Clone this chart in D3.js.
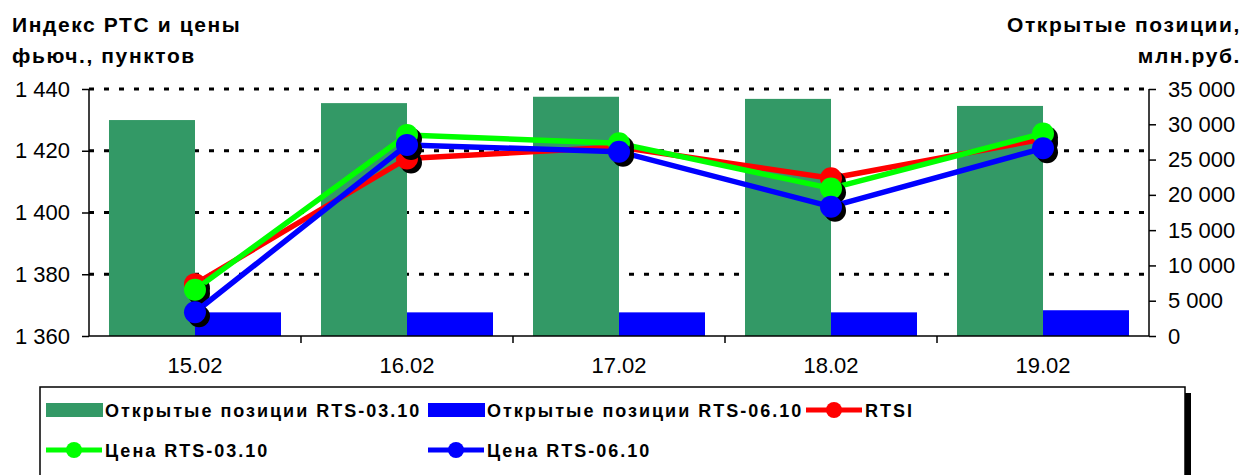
<!DOCTYPE html>
<html>
<head>
<meta charset="utf-8">
<script src="https://cdn.jsdelivr.net/npm/d3@7"></script>
<style>
  body { margin: 0; background: #fff; }
  svg { font-family: "Liberation Sans", Arial, sans-serif; }
</style>
</head>
<body>
<div id="chart"></div>
<script>
const width = 1243;
const height = 475;

// data
const categories = ["15.02", "16.02", "17.02", "18.02", "19.02"];
const oiMar = [30600, 33000, 33900, 33600, 32600];   // Открытые позиции RTS-03.10
const oiJun = [3350, 3350, 3350, 3350, 3650];        // Открытые позиции RTS-06.10
const rtsi = [1376.8, 1417.5, 1421.2, 1411.1, 1423.8];
const priceMar = [1375.0, 1425.1, 1422.4, 1407.8, 1425.6];
const priceJun = [1367.7, 1421.9, 1419.7, 1401.9, 1420.8];
const leftTicks = [1360, 1380, 1400, 1420, 1440];
const rightTicks = [0, 5000, 10000, 15000, 20000, 25000, 30000, 35000];

const plot = { left: 89, right: 1149, top: 89, bottom: 336 };

const ru = d3.formatLocale({ decimal: ",", thousands: " ", grouping: [3], currency: ["", ""] });
const fmt = ru.format(",");

const svg = d3.select("#chart").append("svg")
    .attr("width", width)
    .attr("height", height);

const x = d3.scaleBand()
    .domain(categories)
    .range([plot.left, plot.right])
    .paddingInner(0.1887)
    .paddingOuter(0.0943);

const xSub = d3.scaleBand()
    .domain(["mar", "jun"])
    .range([0, x.bandwidth()]);

const yLeft = d3.scaleLinear().domain([1360, 1440]).range([plot.bottom, plot.top]);
const yRight = d3.scaleLinear().domain([0, 35000]).range([plot.bottom, plot.top]);

// gridlines (behind the bars)
svg.append("g")
    .selectAll("line")
    .data(leftTicks.slice(1))
    .join("line")
    .attr("x1", plot.left)
    .attr("x2", plot.right)
    .attr("y1", d => yLeft(d))
    .attr("y2", d => yLeft(d))
    .style("stroke", "#000")
    .style("stroke-width", 3)
    .style("stroke-dasharray", "5,10");

// bars
const bars = svg.append("g");
bars.selectAll(".bar-mar")
    .data(categories)
    .join("rect")
    .attr("class", "bar-mar")
    .attr("x", d => x(d) + xSub("mar"))
    .attr("width", xSub.bandwidth())
    .attr("y", (d, i) => yRight(oiMar[i]))
    .attr("height", (d, i) => yRight(0) - yRight(oiMar[i]))
    .style("fill", "#339966");

bars.selectAll(".bar-jun")
    .data(categories)
    .join("rect")
    .attr("class", "bar-jun")
    .attr("x", d => x(d) + xSub("jun"))
    .attr("width", xSub.bandwidth())
    .attr("y", (d, i) => yRight(oiJun[i]))
    .attr("height", (d, i) => yRight(0) - yRight(oiJun[i]))
    .style("fill", "#0000ff");

// axes
const leftAxis = svg.append("g")
    .attr("transform", `translate(${plot.left},0)`)
    .call(d3.axisLeft(yLeft).tickValues(leftTicks).tickFormat(fmt).tickSize(7).tickPadding(12));

const rightAxis = svg.append("g")
    .attr("transform", `translate(${plot.right},0)`)
    .call(d3.axisRight(yRight).tickValues(rightTicks).tickFormat(fmt).tickSize(7).tickPadding(12));

const bottomAxis = svg.append("g")
    .attr("transform", `translate(0,${plot.bottom})`)
    .call(d3.axisBottom(x).tickSize(0).tickPadding(17));

// category boundary ticks on the bottom axis
bottomAxis.selectAll(".sep")
    .data(categories.slice(1))
    .join("line")
    .attr("class", "sep")
    .attr("x1", d => x(d) - x.step() * x.paddingInner() / 2)
    .attr("x2", d => x(d) - x.step() * x.paddingInner() / 2)
    .attr("y1", 0)
    .attr("y2", 7)
    .style("stroke", "#000")
    .style("stroke-width", 1.5);

[leftAxis, rightAxis, bottomAxis].forEach(g => {
    g.selectAll(".domain").attr("d", null);
    g.selectAll("line").style("stroke", "#000").style("stroke-width", 1.5);
    g.selectAll("text")
        .style("font-size", "22px")
        .style("fill", "#000");
});
bottomAxis.selectAll(".tick text").attr("dy", "0.9em");

// axis lines drawn plainly
svg.append("line")
    .attr("x1", plot.left).attr("x2", plot.left)
    .attr("y1", plot.top).attr("y2", plot.bottom)
    .style("stroke", "#000").style("stroke-width", 1.5);
svg.append("line")
    .attr("x1", plot.right).attr("x2", plot.right)
    .attr("y1", plot.top).attr("y2", plot.bottom)
    .style("stroke", "#000").style("stroke-width", 1.5);
svg.append("line")
    .attr("x1", plot.left).attr("x2", plot.right)
    .attr("y1", plot.bottom).attr("y2", plot.bottom)
    .style("stroke", "#000").style("stroke-width", 1.5);

// line series
const series = [
    { name: "RTSI", values: rtsi, color: "#ff0000" },
    { name: "Цена RTS-03.10", values: priceMar, color: "#00ff00" },
    { name: "Цена RTS-06.10", values: priceJun, color: "#0000ff" }
];

const cx = c => x(c) + x.bandwidth() / 2;
const line = d3.line()
    .x((d, i) => cx(categories[i]))
    .y(d => yLeft(d));

series.forEach(s => {
    const g = svg.append("g");
    g.append("path")
        .datum(s.values)
        .attr("d", line)
        .style("fill", "none")
        .style("stroke", s.color)
        .style("stroke-width", 5.5)
        .style("stroke-linejoin", "round");
    g.selectAll(".shadow")
        .data(s.values)
        .join("circle")
        .attr("class", "shadow")
        .attr("cx", (d, i) => cx(categories[i]) + 4)
        .attr("cy", d => yLeft(d) + 4)
        .attr("r", 11)
        .style("fill", "#000");
    g.selectAll(".dot")
        .data(s.values)
        .join("circle")
        .attr("class", "dot")
        .attr("cx", (d, i) => cx(categories[i]))
        .attr("cy", d => yLeft(d))
        .attr("r", 11)
        .style("fill", s.color);
});

// axis titles
const titleStyle = t => t.style("font-size", "21px").style("font-weight", "bold").style("letter-spacing", "1.6px");
svg.append("text").attr("x", 12).attr("y", 32).text("Индекс РТС и цены").call(titleStyle);
svg.append("text").attr("x", 12).attr("y", 63).text("фьюч., пунктов").call(titleStyle);
svg.append("text").attr("x", 1241).attr("y", 32).attr("text-anchor", "end").text("Открытые позиции,").call(titleStyle);
svg.append("text").attr("x", 1241).attr("y", 63).attr("text-anchor", "end").text("млн.руб.").call(titleStyle);

// legend
const legend = svg.append("g");
legend.append("rect")
    .attr("x", 1185).attr("y", 393)
    .attr("width", 6).attr("height", 90)
    .style("fill", "#000");
legend.append("rect")
    .attr("x", 40).attr("y", 387)
    .attr("width", 1145).attr("height", 100)
    .style("fill", "#fff")
    .style("stroke", "#000")
    .style("stroke-width", 1.5);

const legendItems = [
    { label: "Открытые позиции RTS-03.10", type: "bar", color: "#339966", x: 46, y: 410 },
    { label: "Открытые позиции RTS-06.10", type: "bar", color: "#0000ff", x: 428, y: 410 },
    { label: "RTSI", type: "line", color: "#ff0000", x: 806, y: 410 },
    { label: "Цена RTS-03.10", type: "line", color: "#00ff00", x: 46, y: 450 },
    { label: "Цена RTS-06.10", type: "line", color: "#0000ff", x: 428, y: 450 }
];

legendItems.forEach(item => {
    const g = legend.append("g").attr("transform", `translate(${item.x},${item.y})`);
    if (item.type === "bar") {
        g.append("rect")
            .attr("x", 0).attr("y", -7)
            .attr("width", 57).attr("height", 14)
            .style("fill", item.color);
    } else {
        g.append("line")
            .attr("x1", 0).attr("x2", 56)
            .attr("y1", 0).attr("y2", 0)
            .style("stroke", item.color)
            .style("stroke-width", 5);
        g.append("circle")
            .attr("cx", 28).attr("cy", 0).attr("r", 8)
            .style("fill", item.color);
    }
    g.append("text")
        .attr("x", 59)
        .attr("y", 6.5)
        .style("font-size", "18px")
        .style("font-weight", "bold")
        .style("letter-spacing", "2px")
        .text(item.label);
});
</script>
</body>
</html>
